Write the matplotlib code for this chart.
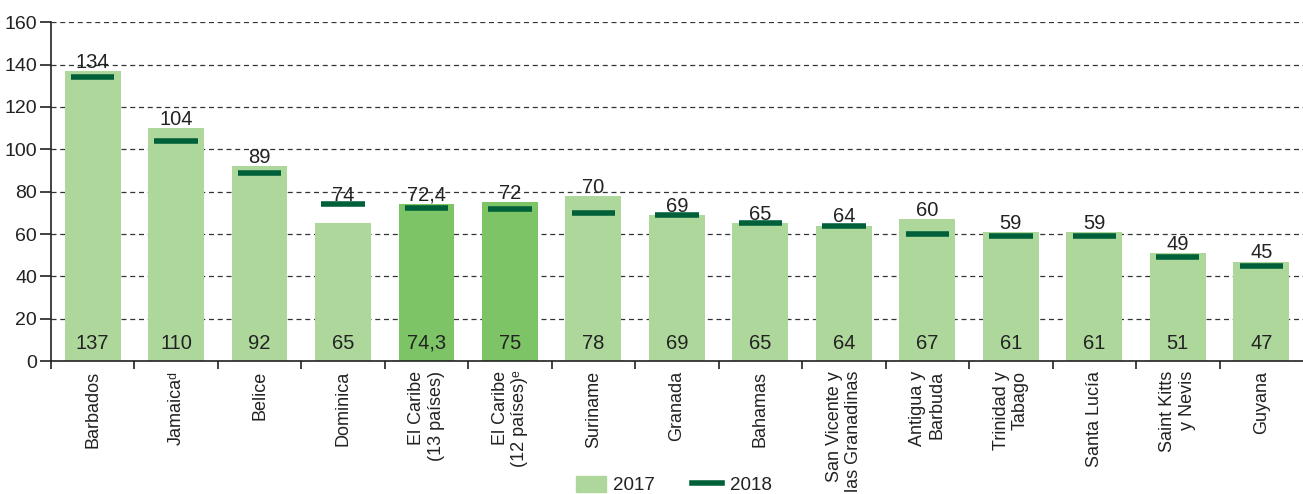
import numpy as np
import matplotlib
matplotlib.use("Agg")
import matplotlib.pyplot as plt
from matplotlib.patches import Patch
from matplotlib.lines import Line2D

plt.rcParams['font.family'] = ['Liberation Sans', 'DejaVu Sans']

# ==========================================================
# DATA
# ==========================================================
countries = ["Barbados", "Jamaica\u1d48", "Belice", "Dominica",
             "El Caribe\n(13 países)", "El Caribe\n(12 países)\u1d49",
             "Suriname", "Granada", "Bahamas", "San Vicente y\nlas Granadinas",
             "Antigua y\nBarbuda", "Trinidad y\nTabago", "Santa Lucía",
             "Saint Kitts\ny Nevis", "Guyana"]
v2017 = [137, 110, 92, 65, 74.3, 75, 78, 69, 65, 64, 67, 61, 61, 51, 47]
v2018 = [134, 104, 89, 74, 72.4, 72, 70, 69, 65, 64, 60, 59, 59, 49, 45]
highlight = [False, False, False, False, True, True, False, False,
             False, False, False, False, False, False, False]

light = "#aed79b"
dark = "#7dc466"
mark = "#00603a"
txt = "#222222"

def fmt(v):
    return f"{v:g}".replace(".", ",")

# ==========================================================
# PLOT
# ==========================================================
fig = plt.figure(figsize=(13.03, 4.94), dpi=100)
ax = fig.add_axes([0.039, 0.269, 0.961, 0.686])

x = np.arange(len(countries))
colors = [dark if h else light for h in highlight]
ax.bar(x, v2017, width=0.67, color=colors, zorder=2)
ax.hlines(v2018, x - 0.26, x + 0.26, color=mark, lw=4, zorder=3)

for xi, a, b in zip(x, v2017, v2018):
    ax.text(xi, 8.5, fmt(a), ha='center', va='center', fontsize=14.5, color=txt, zorder=4)
    ax.annotate(fmt(b), (xi, max(a, b)), xytext=(0, -0.5), textcoords='offset points',
                ha='center', va='bottom', fontsize=14.5, color=txt, zorder=4)

ax.set_ylim(0, 160)
ax.set_xlim(-0.5, len(countries) - 0.5)
ax.set_yticks(np.arange(0, 161, 20))
ax.yaxis.grid(True, color='#333333', ls=(0, (4, 3)), lw=0.9, zorder=0)
ax.set_axisbelow(True)

ax.set_xticks(x - 0.5, minor=False)
ax.set_xticklabels([])
ax.set_xticks(x, minor=True)
ax.set_xticklabels(countries, minor=True, rotation=90, ha='center', va='top',
                   multialignment='right', fontsize=13, color=txt)
ax.tick_params(axis='x', which='minor', length=0, pad=7)
ax.tick_params(axis='x', which='major', length=6, width=1.2, color=txt)
ax.tick_params(axis='y', length=8, width=1.2, labelsize=14, color=txt,
               labelcolor=txt, pad=2)

for s in ['top', 'right']:
    ax.spines[s].set_visible(False)
for s in ['left', 'bottom']:
    ax.spines[s].set_linewidth(1.2)
    ax.spines[s].set_color(txt)

handles = [Patch(color=light, label='2017'),
           Line2D([0], [0], color=mark, lw=4, label='2018')]
fig.legend(handles=handles, loc='lower center', bbox_to_anchor=(0.517, -0.035), ncol=2,
           frameon=False, fontsize=13.5, handlelength=1.6, handleheight=0.9,
           handletextpad=0.4, columnspacing=2.0, labelcolor=txt)

fig.savefig("out.png", dpi=100)
